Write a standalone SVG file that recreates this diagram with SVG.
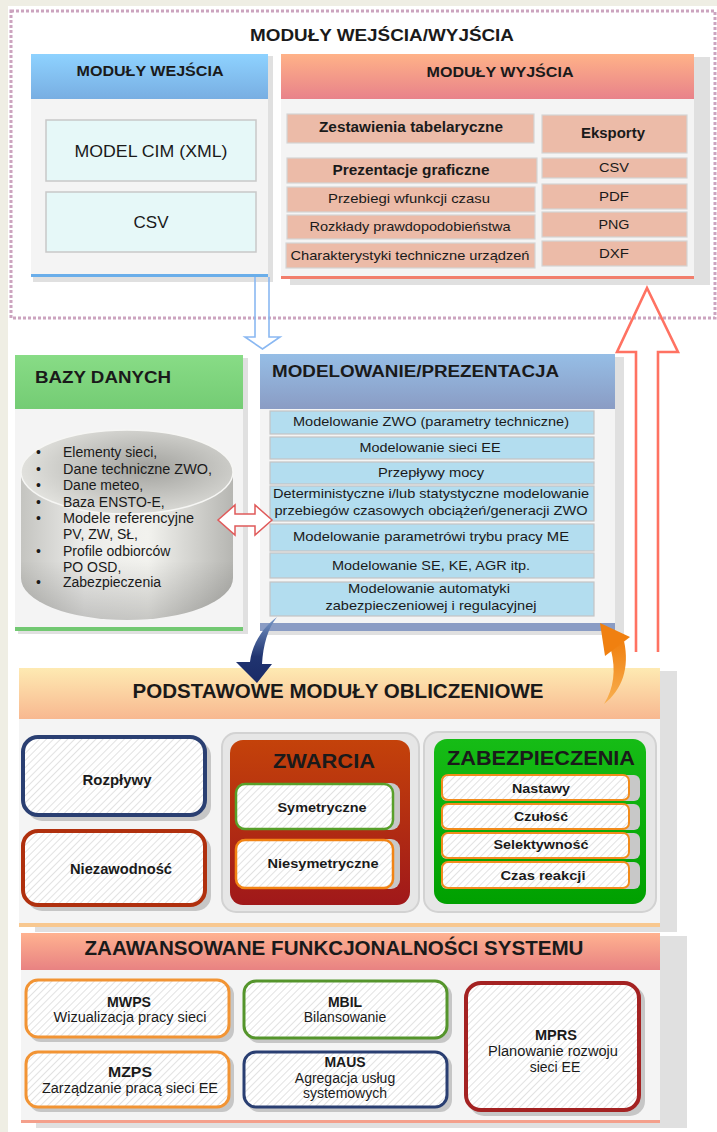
<svg xmlns="http://www.w3.org/2000/svg" width="717" height="1132" viewBox="0 0 717 1132">
<defs>
<style>
.t{font-family:"Liberation Sans",Arial,sans-serif;fill:#1a1a1a}
.b{font-weight:bold}
.m{text-anchor:middle}
.sh{fill:#e0e0e0}
.body{fill:#f4f4f4}
.ob{fill:#ecbba8;stroke:#d4d4d4;stroke-width:1.2}
.mb{fill:#b3ddef;stroke:#c4c4c4;stroke-width:1.2}
.ib{fill:#e6f8f8;stroke:#c8c8c8;stroke-width:1.5}
.hb{fill:url(#hatch)}
.bs{fill:#c6c6c6}
</style>
<linearGradient id="gIn" x1="0" y1="0" x2="0" y2="1"><stop offset="0" stop-color="#8ed2ff"/><stop offset="1" stop-color="#78aee2"/></linearGradient>
<linearGradient id="gOut" x1="0" y1="0" x2="0" y2="1"><stop offset="0" stop-color="#ffb288"/><stop offset="1" stop-color="#e8828a"/></linearGradient>
<linearGradient id="gDb" x1="0" y1="0" x2="0" y2="1"><stop offset="0" stop-color="#88dc86"/><stop offset="1" stop-color="#74cc74"/></linearGradient>
<linearGradient id="gMod" x1="0" y1="0" x2="0" y2="1"><stop offset="0" stop-color="#96bee6"/><stop offset="1" stop-color="#8a9cc4"/></linearGradient>
<linearGradient id="gCalc" x1="0" y1="0" x2="0" y2="1"><stop offset="0" stop-color="#feeab2"/><stop offset="1" stop-color="#f8b890"/></linearGradient>
<linearGradient id="gAdv" x1="0" y1="0" x2="0" y2="1"><stop offset="0" stop-color="#ffb290"/><stop offset="1" stop-color="#e88282"/></linearGradient>
<linearGradient id="gZw" x1="0" y1="0" x2="0" y2="1"><stop offset="0" stop-color="#c4420a"/><stop offset="1" stop-color="#a0181a"/></linearGradient>
<linearGradient id="gZab" x1="0" y1="0" x2="0" y2="1"><stop offset="0" stop-color="#16bc16"/><stop offset="1" stop-color="#00a000"/></linearGradient>
<linearGradient id="gBlue" x1="0" y1="0" x2="0" y2="1"><stop offset="0" stop-color="#7898c8"/><stop offset="0.6" stop-color="#203470"/><stop offset="1" stop-color="#1a2a66"/></linearGradient>
<linearGradient id="gOr" x1="0" y1="1" x2="0" y2="0"><stop offset="0" stop-color="#f8b050"/><stop offset="1" stop-color="#f08010"/></linearGradient>
<radialGradient id="cylTop" cx="0.6" cy="0.45" r="0.65"><stop offset="0" stop-color="#a2a29e"/><stop offset="1" stop-color="#e6e6e2"/></radialGradient>
<linearGradient id="cylBody" x1="0" y1="0" x2="1" y2="0"><stop offset="0" stop-color="#c4c4c0"/><stop offset="0.3" stop-color="#ececea"/><stop offset="0.6" stop-color="#f2f2ee"/><stop offset="1" stop-color="#b6b6b2"/></linearGradient>
<linearGradient id="cylShade" x1="0" y1="0" x2="0" y2="1"><stop offset="0" stop-color="#000" stop-opacity="0"/><stop offset="0.6" stop-color="#000" stop-opacity="0"/><stop offset="1" stop-color="#000" stop-opacity="0.18"/></linearGradient>
<pattern id="hatch" width="5" height="5" patternUnits="userSpaceOnUse" patternTransform="rotate(45)"><rect width="5" height="5" fill="#ffffff"/><line x1="0" y1="0" x2="0" y2="5" stroke="#e2e2e2" stroke-width="2"/></pattern>
</defs>

<rect x="0" y="0" width="717" height="1132" fill="#ffffff"/>
<rect x="0" y="0" width="717" height="6" fill="#efeee4"/>
<rect x="0" y="0" width="8" height="1132" fill="#efeee4"/>

<g id="io-frame">
<rect x="11" y="11" width="704" height="307" fill="none" stroke="#cca4bf" stroke-width="3" stroke-dasharray="3 2"/>
<text class="t b m" x="382" y="41" font-size="17" textLength="264" lengthAdjust="spacingAndGlyphs">MODUŁY WEJŚCIA/WYJŚCIA</text>
</g>

<g id="input-modules">
<rect class="sh" x="33" y="56" width="240" height="226"/>
<rect x="31" y="54" width="237" height="45" fill="url(#gIn)"/>
<rect class="body" x="31" y="99" width="237" height="175"/>
<rect x="31" y="274" width="237" height="3" fill="#6aaeea"/>
<text class="t b m" x="150" y="76" font-size="14.5" textLength="147" lengthAdjust="spacingAndGlyphs">MODUŁY WEJŚCIA</text>
<rect class="ib" x="46" y="120" width="210" height="61"/>
<text class="t m" x="151" y="157" font-size="17" fill="#333" textLength="153" lengthAdjust="spacingAndGlyphs">MODEL CIM (XML)</text>
<rect class="ib" x="46" y="192" width="210" height="60"/>
<text class="t m" x="151" y="228" font-size="17" fill="#333">CSV</text>
</g>

<g id="output-modules">
<rect class="sh" x="290" y="57" width="420" height="228"/>
<rect x="281" y="54" width="413" height="45" fill="url(#gOut)"/>
<rect class="body" x="281" y="99" width="413" height="177"/>
<rect x="281" y="276" width="413" height="3" fill="#f27e6c"/>
<text class="t b m" x="500" y="77" font-size="14.5" textLength="147" lengthAdjust="spacingAndGlyphs">MODUŁY WYJŚCIA</text>
<rect class="ob" x="287" y="114" width="247" height="29"/>
<text class="t b m" x="411" y="132" font-size="14" textLength="184" lengthAdjust="spacingAndGlyphs">Zestawienia tabelaryczne</text>
<rect class="ob" x="287" y="158" width="250" height="25"/>
<text class="t b m" x="411" y="175" font-size="14" textLength="157" lengthAdjust="spacingAndGlyphs">Prezentacje graficzne</text>
<rect class="ob" x="287" y="187" width="248" height="25"/>
<text class="t m" x="409" y="203" font-size="13" fill="#333" textLength="162" lengthAdjust="spacingAndGlyphs">Przebiegi wfunkcji czasu</text>
<rect class="ob" x="287" y="215" width="248" height="24"/>
<text class="t m" x="410" y="231" font-size="13" fill="#333" textLength="201" lengthAdjust="spacingAndGlyphs">Rozkłady prawdopodobieństwa</text>
<rect class="ob" x="286" y="243" width="249" height="25"/>
<text class="t m" x="410" y="260" font-size="13" fill="#333" textLength="239" lengthAdjust="spacingAndGlyphs">Charakterystyki techniczne urządzeń</text>
<rect class="ob" x="542" y="115" width="145" height="38"/>
<text class="t b m" x="613" y="138" font-size="15" textLength="64" lengthAdjust="spacingAndGlyphs">Eksporty</text>
<rect class="ob" x="542" y="158" width="145" height="20"/>
<text class="t m" x="614" y="172" font-size="13" fill="#333" textLength="30" lengthAdjust="spacingAndGlyphs">CSV</text>
<rect class="ob" x="542" y="184" width="145" height="25"/>
<text class="t m" x="614" y="201" font-size="13" fill="#333" textLength="30" lengthAdjust="spacingAndGlyphs">PDF</text>
<rect class="ob" x="542" y="212" width="145" height="25"/>
<text class="t m" x="614" y="229" font-size="13" fill="#333" textLength="31" lengthAdjust="spacingAndGlyphs">PNG</text>
<rect class="ob" x="542" y="241" width="145" height="25"/>
<text class="t m" x="614" y="258" font-size="13" fill="#333" textLength="30" lengthAdjust="spacingAndGlyphs">DXF</text>
</g>

<g id="bazy-danych">
<rect class="sh" x="18" y="358" width="230" height="276"/>
<rect x="15" y="355" width="228" height="54" fill="url(#gDb)"/>
<rect class="body" x="15" y="409" width="228" height="218"/>
<rect x="15" y="627" width="228" height="4" fill="#72c872"/>
<text class="t b" x="35" y="383" font-size="16.5" textLength="136" lengthAdjust="spacingAndGlyphs">BAZY DANYCH</text>
<path d="M21,472 L21,578 A106,42 0 0 0 233,578 L233,472 Z" fill="url(#cylBody)"/>
<path d="M21,472 L21,578 A106,42 0 0 0 233,578 L233,472 Z" fill="url(#cylShade)"/>
<ellipse cx="127" cy="472" rx="106" ry="42" fill="url(#cylTop)" stroke="#f6f6f4" stroke-width="1.5"/>
<g class="t" font-size="14" fill="#222">
<text x="36" y="457">•</text><text x="63" y="457">Elementy sieci,</text>
<text x="36" y="474">•</text><text x="63" y="474" textLength="149" lengthAdjust="spacingAndGlyphs">Dane techniczne ZWO,</text>
<text x="36" y="490">•</text><text x="63" y="490">Dane meteo,</text>
<text x="36" y="507">•</text><text x="63" y="507">Baza ENSTO-E,</text>
<text x="36" y="523">•</text><text x="63" y="523" textLength="131" lengthAdjust="spacingAndGlyphs">Modele referencyjne</text>
<text x="63" y="539">PV, ZW, SŁ,</text>
<text x="36" y="556">•</text><text x="63" y="556">Profile odbiorców</text>
<text x="63" y="572">PO OSD,</text>
<text x="36" y="587">•</text><text x="63" y="587">Zabezpieczenia</text>
</g>
</g>

<g id="modelowanie">
<rect class="sh" x="263" y="357" width="361" height="278"/>
<rect x="260" y="354" width="355" height="55" fill="url(#gMod)"/>
<rect class="body" x="260" y="409" width="355" height="214"/>
<rect x="260" y="623" width="355" height="8" fill="#8a9cc4"/>
<text class="t b" x="272" y="377" font-size="16" fill="#1a3060" textLength="287" lengthAdjust="spacingAndGlyphs">MODELOWANIE/PREZENTACJA</text>
<rect class="mb" x="270" y="411" width="324" height="23"/>
<text class="t m" x="431" y="426" font-size="13.5" textLength="276" lengthAdjust="spacingAndGlyphs">Modelowanie ZWO (parametry techniczne)</text>
<rect class="mb" x="270" y="437" width="324" height="22"/>
<text class="t m" x="430" y="452" font-size="13.5" textLength="141" lengthAdjust="spacingAndGlyphs">Modelowanie sieci EE</text>
<rect class="mb" x="270" y="462" width="324" height="22"/>
<text class="t m" x="431" y="477" font-size="13.5" textLength="106" lengthAdjust="spacingAndGlyphs">Przepływy mocy</text>
<rect class="mb" x="270" y="486" width="324" height="35"/>
<text class="t m" x="431" y="498" font-size="13.5" textLength="316" lengthAdjust="spacingAndGlyphs">Deterministyczne i/lub statystyczne modelowanie</text>
<text class="t m" x="431" y="515" font-size="13.5" textLength="313" lengthAdjust="spacingAndGlyphs">przebiegów czasowych obciążeń/generacji ZWO</text>
<rect class="mb" x="270" y="524" width="324" height="27"/>
<text class="t m" x="431" y="541" font-size="13.5" textLength="276" lengthAdjust="spacingAndGlyphs">Modelowanie parametrówi trybu pracy ME</text>
<rect class="mb" x="270" y="553" width="324" height="25"/>
<text class="t m" x="431" y="570" font-size="13.5" textLength="198" lengthAdjust="spacingAndGlyphs">Modelowanie SE, KE, AGR itp.</text>
<rect class="mb" x="270" y="582" width="324" height="34"/>
<text class="t m" x="429" y="593" font-size="13.5" textLength="162" lengthAdjust="spacingAndGlyphs">Modelowanie automatyki</text>
<text class="t m" x="431" y="610" font-size="13.5" textLength="211" lengthAdjust="spacingAndGlyphs">zabezpieczeniowej i regulacyjnej</text>
</g>

<g id="podstawowe-moduly">
<rect class="sh" x="35" y="671" width="642" height="261"/>
<rect x="19" y="668" width="641" height="51" fill="url(#gCalc)"/>
<rect class="body" x="19" y="719" width="641" height="204"/>
<rect x="19" y="923" width="641" height="4" fill="#f8c890"/>
<text class="t b m" x="338" y="698" font-size="20" textLength="411" lengthAdjust="spacingAndGlyphs">PODSTAWOWE MODUŁY OBLICZENIOWE</text>
</g>

<g id="rozplywy">
<rect class="bs" x="27" y="741" width="184" height="80" rx="15"/>
<rect class="hb" x="23" y="737" width="182" height="78" rx="15" stroke="#2a3f72" stroke-width="4"/>
<text class="t b m" x="117" y="785" font-size="14" textLength="69" lengthAdjust="spacingAndGlyphs">Rozpływy</text>
</g>

<g id="niezawodnosc">
<rect class="bs" x="27" y="835" width="184" height="76" rx="15"/>
<rect class="hb" x="23" y="831" width="182" height="74" rx="15" stroke="#b0300e" stroke-width="4"/>
<text class="t b m" x="121" y="874" font-size="14" textLength="102" lengthAdjust="spacingAndGlyphs">Niezawodność</text>
</g>

<g id="zwarcia">
<rect x="222" y="733" width="197" height="179" rx="14" fill="#e6e6e6" stroke="#d2d2d2" stroke-width="2"/>
<rect x="230" y="740" width="180" height="165" rx="13" fill="url(#gZw)"/>
<text class="t b m" x="324" y="768" font-size="20" textLength="102" lengthAdjust="spacingAndGlyphs">ZWARCIA</text>
<g id="symetryczne">
<rect x="236" y="783" width="164" height="47" rx="9" fill="#c8c8c8"/>
<rect class="hb" x="236" y="784" width="157" height="45" rx="9" stroke="#58a02a" stroke-width="2.5"/>
<text class="t b m" x="322" y="812" font-size="13" textLength="89" lengthAdjust="spacingAndGlyphs">Symetryczne</text>
</g>
<g id="niesymetryczne">
<rect x="236" y="839" width="164" height="50" rx="9" fill="#c8c8c8"/>
<rect class="hb" x="236" y="840" width="157" height="48" rx="9" stroke="#f28414" stroke-width="2.5"/>
<text class="t b m" x="323" y="868" font-size="13" textLength="111" lengthAdjust="spacingAndGlyphs">Niesymetryczne</text>
</g>
</g>

<g id="zabezpieczenia">
<rect x="424" y="732" width="232" height="180" rx="14" fill="#e6e6e6" stroke="#d2d2d2" stroke-width="2"/>
<rect x="434" y="739" width="212" height="165" rx="13" fill="url(#gZab)"/>
<text class="t b m" x="541" y="765" font-size="20" textLength="188" lengthAdjust="spacingAndGlyphs">ZABEZPIECZENIA</text>
<g id="nastawy">
<rect x="441" y="775" width="199" height="26" rx="6" fill="#c8c8c8"/>
<rect class="hb" x="442" y="775" width="187" height="25" rx="6" stroke="#f28c1c" stroke-width="2"/>
<text class="t b m" x="541" y="793" font-size="13" textLength="58" lengthAdjust="spacingAndGlyphs">Nastawy</text>
</g>
<g id="czulosc">
<rect x="441" y="804" width="199" height="26" rx="6" fill="#c8c8c8"/>
<rect class="hb" x="442" y="804" width="187" height="25" rx="6" stroke="#f28c1c" stroke-width="2"/>
<text class="t b m" x="541" y="821" font-size="13" textLength="54" lengthAdjust="spacingAndGlyphs">Czułość</text>
</g>
<g id="selektywnosc">
<rect x="441" y="833" width="199" height="26" rx="6" fill="#c8c8c8"/>
<rect class="hb" x="442" y="833" width="187" height="25" rx="6" stroke="#f28c1c" stroke-width="2"/>
<text class="t b m" x="541" y="849" font-size="13" textLength="95" lengthAdjust="spacingAndGlyphs">Selektywność</text>
</g>
<g id="czas-reakcji">
<rect x="441" y="862" width="199" height="27" rx="6" fill="#c8c8c8"/>
<rect class="hb" x="442" y="862" width="187" height="26" rx="6" stroke="#f28c1c" stroke-width="2"/>
<text class="t b m" x="543" y="880" font-size="13" textLength="85" lengthAdjust="spacingAndGlyphs">Czas reakcji</text>
</g>
</g>

<g id="zaawansowane">
<rect class="sh" x="36" y="936" width="651" height="192"/>
<rect x="21" y="933" width="639" height="37" fill="url(#gAdv)"/>
<rect class="body" x="21" y="970" width="639" height="150"/>
<rect x="21" y="1120" width="639" height="3" fill="#f4a08c"/>
<text class="t b m" x="334" y="955" font-size="20" textLength="499" lengthAdjust="spacingAndGlyphs">ZAAWANSOWANE FUNKCJONALNOŚCI SYSTEMU</text>
</g>

<g id="mwps">
<rect class="bs" x="29" y="983" width="205" height="59" rx="12"/>
<rect class="hb" x="26" y="980" width="203" height="57" rx="12" stroke="#f29434" stroke-width="3"/>
<text class="t b m" x="129" y="1007" font-size="14" textLength="44" lengthAdjust="spacingAndGlyphs">MWPS</text>
<text class="t m" x="130" y="1022" font-size="14" fill="#333" textLength="153" lengthAdjust="spacingAndGlyphs">Wizualizacja pracy sieci</text>
</g>
<g id="mzps">
<rect class="bs" x="29" y="1055" width="205" height="57" rx="12"/>
<rect class="hb" x="26" y="1052" width="203" height="55" rx="12" stroke="#f29434" stroke-width="3"/>
<text class="t b m" x="130" y="1077" font-size="14" textLength="44" lengthAdjust="spacingAndGlyphs">MZPS</text>
<text class="t m" x="130" y="1093" font-size="14" fill="#333" textLength="176" lengthAdjust="spacingAndGlyphs">Zarządzanie pracą sieci EE</text>
</g>
<g id="mbil">
<rect class="bs" x="247" y="984" width="205" height="59" rx="12"/>
<rect class="hb" x="244" y="981" width="203" height="57" rx="12" stroke="#55952c" stroke-width="3"/>
<text class="t b m" x="345" y="1007" font-size="14">MBIL</text>
<text class="t m" x="345" y="1022" font-size="14" fill="#333">Bilansowanie</text>
</g>
<g id="maus">
<rect class="bs" x="247" y="1055" width="205" height="57" rx="12"/>
<rect class="hb" x="244" y="1052" width="203" height="55" rx="12" stroke="#2a3f72" stroke-width="3"/>
<text class="t b m" x="345" y="1067" font-size="14">MAUS</text>
<text class="t m" x="345" y="1083" font-size="14" fill="#333">Agregacja usług</text>
<text class="t m" x="345" y="1098" font-size="14" fill="#333">systemowych</text>
</g>
<g id="mprs">
<rect class="bs" x="469" y="986" width="176" height="130" rx="15"/>
<rect class="hb" x="466" y="983" width="173" height="127" rx="15" stroke="#a42222" stroke-width="4"/>
<text class="t b m" x="556" y="1040" font-size="14" textLength="42" lengthAdjust="spacingAndGlyphs">MPRS</text>
<text class="t m" x="553" y="1056" font-size="14" fill="#333" textLength="130" lengthAdjust="spacingAndGlyphs">Planowanie rozwoju</text>
<text class="t m" x="555" y="1072" font-size="14" fill="#333">sieci EE</text>
</g>

<g id="connectors">
<path d="M255,277 L255,337 L245,337 L262.5,349 L280,337 L269,337 L269,277" fill="none" stroke="#8ab8f2" stroke-width="1.6"/>
<path d="M636,652 L636,352 L617,352 L647,288 L678,352 L658,352 L658,652" fill="none" stroke="#ff7262" stroke-width="2.6"/>
<path d="M218,520 L235,505 L235,514 L255,514 L255,505 L272,520 L255,535 L255,526 L235,526 L235,535 Z" fill="#ffffff" stroke="#e05a5a" stroke-width="1.5"/>
<path d="M277,617 C262,628 252,645 250,662 L236,662 L257,683 L272,664 L262,664 C263,645 268,628 277,617 Z" fill="url(#gBlue)"/>
<path d="M604,704 C622,690 630,668 624,641 L611,650 C616,670 614,688 604,704 Z" fill="url(#gOr)"/>
<path d="M600,623 L630,637 L605,656 Z" fill="#f08010"/>
</g>
</svg>
